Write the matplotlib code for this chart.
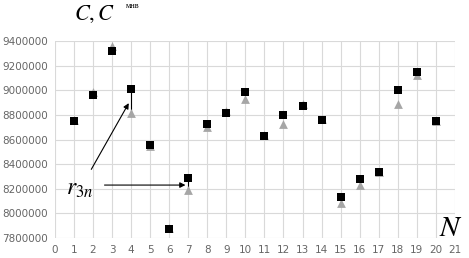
import numpy as np
import matplotlib
matplotlib.use("Agg")
import matplotlib.pyplot as plt

#-----------------data----------------
n = [1, 2, 3, 4, 5, 6, 7, 8, 9, 10, 11, 12, 13, 14, 15, 16, 17, 18, 19, 20]
c = [8750000, 8961000, 9321000, 9008000, 8553000, 7873000, 8290000, 8728000, 8815000, 8983000,
     8631000, 8801000, 8875000, 8761000, 8135000, 8282000, 8338000, 9004000, 9146000, 8748000]
c_mnv = [8755000, 8985000, 9360000, 8818000, 8545000, 7880000, 8190000, 8705000, 8830000, 8929000,
         8640000, 8726000, 8890000, 8765000, 8087000, 8233000, 8340000, 8891000, 9126000, 8752000]
xticks = list(range(0, 22))
yticks = list(range(7800000, 9400001, 200000))
#-----------------------------------------------------------

fig = plt.figure(figsize=(4.69, 2.58), dpi=100)
ax = fig.add_axes([0.117, 0.0775, 0.853, 0.7635])

grid_col = '#d9d9d9'
ax.set_xlim(0, 21)
ax.set_ylim(7800000, 9400000)
ax.set_xticks(xticks)
ax.set_yticks(yticks)
ax.set_xticklabels([str(t) for t in xticks])
ax.set_yticklabels([str(t) for t in yticks])
ax.grid(True, color=grid_col, lw=0.8)
ax.set_axisbelow(True)
for s in ax.spines.values():
    s.set_visible(False)
ax.tick_params(length=0, labelsize=7.5, colors='#666666', pad=5)

# connecting ticks at the two annotated points
for i in (3, 6):
    ax.plot([n[i], n[i]], [c_mnv[i], c[i]], color='black', lw=0.8, zorder=2)

ax.scatter(n, c_mnv, marker='^', s=40, color='#a6a6a6', zorder=3, linewidths=0)
ax.scatter(n, c, marker='s', s=32, color='black', zorder=4, linewidths=0)

# annotation r_3n with two arrows
ax.annotate('', xy=(3.95, 8915000), xytext=(1.84, 8338000),
            arrowprops=dict(arrowstyle='-|>', color='black', lw=0.8, mutation_scale=8))
ax.annotate('', xy=(7.0, 8230000), xytext=(2.46, 8230000),
            arrowprops=dict(arrowstyle='-|>', color='black', lw=0.8, mutation_scale=8))
ax.text(0.6, 8210000, r'$r_{3n}$', fontsize=17, va='center', ha='left',
        math_fontfamily='stix')

fig.text(0.158, 0.945, r'$C,C$', fontsize=16, math_fontfamily='stix', va='center', ha='left')
fig.text(0.268, 0.975, 'мнв', fontsize=6, family='Liberation Serif', va='center', ha='left')
fig.text(0.962, 0.115, r'$N$', fontsize=21, math_fontfamily='stix', va='center', ha='center')

fig.savefig('out.png', dpi=100)
